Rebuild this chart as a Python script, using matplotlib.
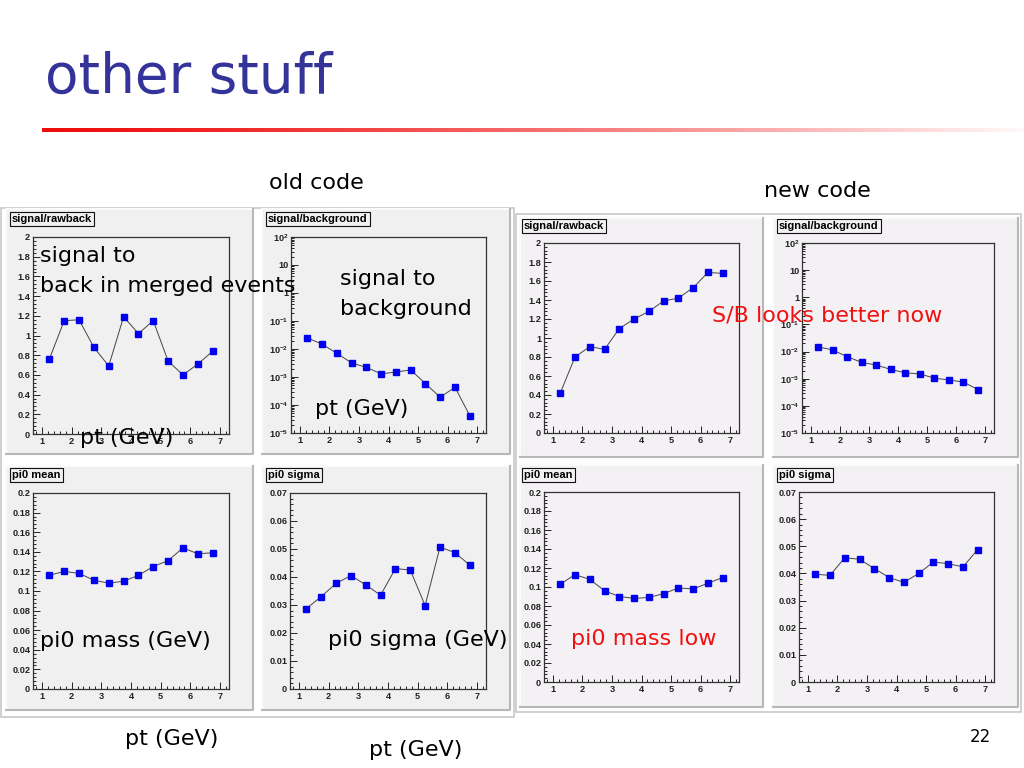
import matplotlib
matplotlib.use('Agg')
import matplotlib.pyplot as plt
import numpy as np
from matplotlib.patches import Rectangle
from matplotlib.ticker import MultipleLocator, FixedLocator, FuncFormatter, NullFormatter

# ---------------- data ----------------
pt = [1.25, 1.75, 2.25, 2.75, 3.25, 3.75, 4.25, 4.75, 5.25, 5.75, 6.25, 6.75]

old_rawback = [0.76, 1.15, 1.16, 0.88, 0.69, 1.19, 1.02, 1.15, 0.74, 0.60, 0.71, 0.84]
old_sb = [2.5e-2, 1.5e-2, 7.0e-3, 3.2e-3, 2.2e-3, 1.3e-3, 1.5e-3, 1.8e-3, 5.8e-4, 1.9e-4, 4.3e-4, 4.2e-5]
old_mean = [0.116, 0.120, 0.118, 0.111, 0.108, 0.110, 0.116, 0.125, 0.131, 0.144, 0.138, 0.139]
old_sigma = [0.0287, 0.0330, 0.0377, 0.0405, 0.0372, 0.0335, 0.0430, 0.0425, 0.0298, 0.0507, 0.0487, 0.0443]

new_rawback = [0.42, 0.80, 0.91, 0.88, 1.10, 1.20, 1.28, 1.39, 1.42, 1.53, 1.69, 1.68]
new_sb = [1.5e-2, 1.15e-2, 6.5e-3, 4.0e-3, 3.2e-3, 2.2e-3, 1.65e-3, 1.5e-3, 1.05e-3, 9.0e-4, 7.5e-4, 4.0e-4]
new_mean = [0.103, 0.113, 0.108, 0.096, 0.090, 0.088, 0.089, 0.093, 0.099, 0.098, 0.104, 0.110]
new_sigma = [0.0397, 0.0393, 0.0458, 0.0452, 0.0418, 0.0385, 0.0367, 0.0400, 0.0442, 0.0436, 0.0424, 0.0488]

x_ticks = [1, 2, 3, 4, 5, 6, 7]
log_ticks = [1e-5, 1e-4, 1e-3, 1e-2, 1e-1, 1, 10, 100]
log_labels = [r'$\mathbf{10^{-5}}$', r'$\mathbf{10^{-4}}$', r'$\mathbf{10^{-3}}$', r'$\mathbf{10^{-2}}$',
              r'$\mathbf{10^{-1}}$', '1', '10', r'$\mathbf{10^{2}}$']

# ---------------- figure ----------------
W, H = 1024, 768
fig = plt.figure(figsize=(W / 100, H / 100), dpi=100)
fig.patch.set_facecolor('white')
plt.rcParams['font.family'] = ['DejaVu Sans']
plt.rcParams['mathtext.fontset'] = 'custom'
plt.rcParams['mathtext.bf'] = 'Liberation Sans:bold'
plt.rcParams['mathtext.rm'] = 'Liberation Sans'


def fbox(l, t, r, b):
    return [l / W, 1 - b / H, (r - l) / W, (b - t) / H]


def rect(l, t, r, b, fc, ec, lw=1.0, z=-5):
    fig.add_artist(Rectangle((l / W, 1 - b / H), (r - l) / W, (b - t) / H,
                             transform=fig.transFigure, facecolor=fc, edgecolor=ec,
                             linewidth=lw, zorder=z))


def bevel(l, t, r, b, fc):
    rect(l, t, r, b, fc, 'none', z=-5)
    fig.add_artist(plt.Line2D([l / W, l / W, r / W], [1 - b / H, 1 - t / H, 1 - t / H],
                              transform=fig.transFigure, color='#fbfbfb', lw=1.5, zorder=-4))
    fig.add_artist(plt.Line2D([l / W, r / W, r / W], [1 - b / H, 1 - b / H, 1 - t / H],
                              transform=fig.transFigure, color='#b8b8b8', lw=1.5, zorder=-4))


# canvas borders
rect(1, 208, 514, 717, 'none', '#c8c8c8', lw=1.2, z=-6)
rect(516, 214, 1021, 712, 'none', '#c8c8c8', lw=1.2, z=-6)

OLD_FC = '#f0f0f0'
NEW_FC = '#f4f1f4'

pads = [
    (6, 209, 253, 454, OLD_FC), (262, 209, 510, 454, OLD_FC),
    (6, 466, 253, 710, OLD_FC), (262, 466, 510, 710, OLD_FC),
    (520, 218, 763, 457, NEW_FC), (773, 218, 1018, 457, NEW_FC),
    (520, 465, 763, 707, NEW_FC), (773, 465, 1018, 707, NEW_FC),
]
for l, t, r, b, fc in pads:
    bevel(l, t, r, b, fc)


def gfmt(v, pos):
    s = ('%.3f' % v).rstrip('0').rstrip('.')
    return s


def panel(frame, x, y, ylim, face, title, tpos, log=False, ymaj=None, ymin=None):
    ax = fig.add_axes(fbox(*frame))
    ax.set_facecolor(face)
    ax.plot(x, y, '-', color='#444444', lw=0.7, zorder=2)
    ax.plot(x, y, 's', color='#0000ee', ms=4.7, mec='#0000ee', zorder=3)
    ax.set_xlim(0.7, 7.3)
    ax.xaxis.set_major_locator(FixedLocator(x_ticks))
    ax.xaxis.set_minor_locator(MultipleLocator(0.2))
    ax.xaxis.set_major_formatter(FuncFormatter(lambda v, p: '%d' % v))
    if log:
        ax.set_yscale('log')
        ax.set_ylim(*ylim)
        ax.yaxis.set_major_locator(FixedLocator(log_ticks))
        ax.yaxis.set_minor_locator(FixedLocator(
            [m * 10.0 ** e for e in range(-5, 2) for m in range(2, 10)]))
        ax.set_yticklabels(log_labels)
        ax.yaxis.set_minor_formatter(NullFormatter())
    else:
        ax.set_ylim(*ylim)
        ax.yaxis.set_major_locator(MultipleLocator(ymaj))
        ax.yaxis.set_minor_locator(MultipleLocator(ymin))
        ax.yaxis.set_major_formatter(FuncFormatter(gfmt))
    ax.tick_params(which='both', direction='in', top=False, right=False, colors='#222222',
                   labelsize=6.6, pad=2, width=0.7)
    ax.tick_params(which='major', length=5)
    ax.tick_params(which='minor', length=2.5)
    for lab in ax.get_xticklabels() + ax.get_yticklabels():
        lab.set_fontweight('bold')
        lab.set_family(['Liberation Sans', 'DejaVu Sans'])
    for sp in ax.spines.values():
        sp.set_color('#333333')
        sp.set_linewidth(0.9)
    # title box
    fig.text(tpos[0] / W, 1 - tpos[1] / H, title, fontsize=8, fontweight='bold',
             family=['Liberation Sans', 'DejaVu Sans'], ha='left', va='center', zorder=6,
             bbox=dict(boxstyle='square,pad=0.2', fc=face, ec='#111111', lw=0.8))
    return ax


# old code
panel((33, 237, 229, 434), pt, old_rawback, (0, 2), OLD_FC, 'signal/rawback', (12, 219),
      ymaj=0.2, ymin=0.04)
panel((291, 237, 486, 433), pt, old_sb, (1e-5, 1e2), OLD_FC, 'signal/background', (268, 219), log=True)
panel((33, 493, 229, 689), pt, old_mean, (0, 0.2), OLD_FC, 'pi0 mean', (12, 475),
      ymaj=0.02, ymin=0.004)
panel((290, 493, 486, 689), pt, old_sigma, (0, 0.07), OLD_FC, 'pi0 sigma', (268, 475),
      ymaj=0.01, ymin=0.002)
# new code
panel((544, 243, 739, 433), pt, new_rawback, (0, 2), NEW_FC, 'signal/rawback', (524, 226),
      ymaj=0.2, ymin=0.04)
panel((802, 243, 994, 433), pt, new_sb, (1e-5, 1e2), NEW_FC, 'signal/background', (779, 226), log=True)
panel((544, 492, 739, 682), pt, new_mean, (0, 0.2), NEW_FC, 'pi0 mean', (524, 475),
      ymaj=0.02, ymin=0.004)
panel((799, 492, 994, 682), pt, new_sigma, (0, 0.07), NEW_FC, 'pi0 sigma', (779, 475),
      ymaj=0.01, ymin=0.002)

# ---------------- slide text ----------------
def T(x, y, s, size=16, color='black', ha='left', **kw):
    fig.text(x / W, 1 - y / H, s, fontsize=size, color=color, ha=ha, va='baseline',
             family=['DejaVu Sans'], zorder=10, **kw)


T(45, 93, 'other stuff', size=39.5, color='#333399')

# red gradient rule
gax = fig.add_axes(fbox(42, 128, 1024, 132))
grad = np.linspace(0, 1, 512)
cols = np.zeros((1, 512, 3))
cols[0, :, 0] = 0.93 + 0.07 * grad
cols[0, :, 1] = 0.05 + 0.93 * grad ** 1.3
cols[0, :, 2] = 0.05 + 0.93 * grad ** 1.3
gax.imshow(cols, aspect='auto', extent=(0, 1, 0, 1))
gax.axis('off')

T(316, 189, 'old code', ha='center')
T(817, 197, 'new code', ha='center')
T(40, 262, 'signal to')
T(40, 292, 'back in merged events')
T(340, 285, 'signal to')
T(340, 315, 'background')
T(127, 444, 'pt (GeV)', ha='center')
T(362, 415, 'pt (GeV)', ha='center')
T(712, 322, 'S/B looks better now', color='#ee1111')
T(40, 647, 'pi0 mass (GeV)')
T(328, 646, 'pi0 sigma (GeV)')
T(571, 645, 'pi0 mass low', color='#ee1111')
T(172, 745, 'pt (GeV)', ha='center')
T(416, 756, 'pt (GeV)', ha='center')
T(980, 742, '22', size=12, ha='center')

fig.savefig('out.png', dpi=100, facecolor='white')
